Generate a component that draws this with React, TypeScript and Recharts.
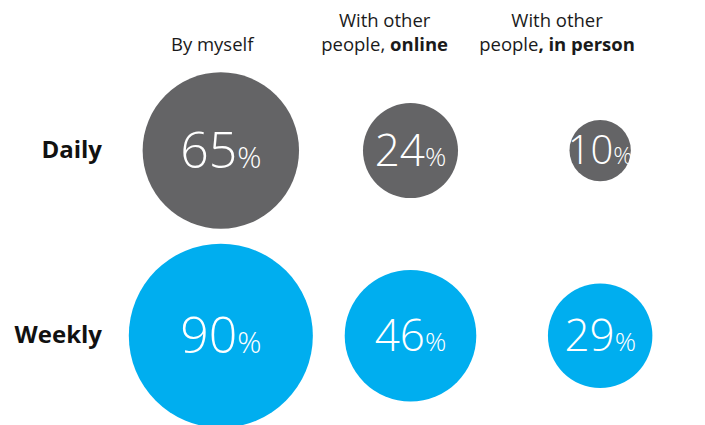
import { ScatterChart, Scatter, XAxis, YAxis, ZAxis } from 'recharts';

const columns = ['By myself', 'With other people, online', 'With other people, in person'];
const headTop = ['', 'With other', 'With other'];
const headPlain = ['By myself', 'people, ', 'people'];
const headBold = ['', 'online', ', in person'];
const rows = ['Daily', 'Weekly'];
const daily = [65, 24, 10];
const weekly = [90, 46, 29];

const dailyData = daily.map((v, i) => ({ col: i, row: 0, value: v, name: columns[i] }));
const weeklyData = weekly.map((v, i) => ({ col: i, row: 1, value: v, name: columns[i] }));
// anchors for the column headers, on their own (narrower) axis
const headData = columns.map((c, i) => ({ col: i, row: 0, value: 0, name: c }));

const FONT = '"Open Sans", "Noto Sans", sans-serif';

function Bubble(props: any) {
  const { cx, cy, fill } = props;
  const r = props.width ? props.width / 2 : Math.sqrt((props.size || 0) / Math.PI);
  const value = props.payload?.value ?? props.value;
  const fs = r > 70 ? 50 : r > 40 ? 44 : 40;
  return (
    <g>
      <circle cx={cx} cy={cy} r={r} fill={fill} />
      <text x={cx} y={cy + fs * 0.34} textAnchor="middle" fill="#fff" fontFamily={FONT} fontWeight={300}>
        <tspan fontSize={fs}>{value}</tspan>
        <tspan fontSize={fs * 0.6}>%</tspan>
      </text>
    </g>
  );
}

const Empty = () => <g />;

function HeaderTick(props: any) {
  const { x, y, payload } = props;
  const i = payload.value;
  return (
    <g>
      {headTop[i] && (
        <text x={x} y={y - 31} textAnchor="middle" fontFamily={FONT} fontSize={18.5} fill="#1a1a1a">
          {headTop[i]}
        </text>
      )}
      <text x={x} y={y - 7} textAnchor="middle" fontFamily={FONT} fontSize={18.5} fill="#1a1a1a">
        <tspan>{headPlain[i]}</tspan>
        {headBold[i] && <tspan fontWeight={700}>{headBold[i]}</tspan>}
      </text>
    </g>
  );
}

function RowTick(props: any) {
  const { x, y, payload } = props;
  return (
    <text x={x} y={y + 7} textAnchor="end" fontFamily={FONT} fontSize={24} fontWeight={700} fill="#111">
      {rows[payload.value]}
    </text>
  );
}

export default function App() {
  return (
    <div style={{ position: 'absolute', left: 0, top: 0, width: 705, height: 425, background: '#fff' }}>
      <ScatterChart width={705} height={425} margin={{ top: 0, right: 10, bottom: 6, left: 0 }}>
        <XAxis xAxisId="main" dataKey="col" type="number" domain={[-0.5, 2.5]} hide />
        <XAxis
          xAxisId="head"
          dataKey="col"
          orientation="top"
          type="number"
          domain={[-0.5, 2.8]}
          ticks={[0, 1, 2]}
          height={58}
          axisLine={false}
          tickLine={false}
          tickSize={0}
          tickMargin={0}
          allowDataOverflow
          tick={<HeaderTick />}
        />
        <YAxis
          dataKey="row"
          type="number"
          domain={[-0.5, 1.45]}
          ticks={[0, 1]}
          reversed
          width={126}
          axisLine={false}
          tickLine={false}
          tickSize={0}
          tickMargin={24}
          tick={<RowTick />}
        />
        <ZAxis dataKey="value" type="number" domain={[0, 100]} range={[0, 29560]} />
        <Scatter xAxisId="head" data={headData} shape={<Empty />} legendType="none" isAnimationActive={false} />
        <Scatter xAxisId="main" data={dailyData} fill="#646466" shape={<Bubble />} isAnimationActive={false} />
        <Scatter xAxisId="main" data={weeklyData} fill="#00AEEF" shape={<Bubble />} isAnimationActive={false} />
      </ScatterChart>
    </div>
  );
}
